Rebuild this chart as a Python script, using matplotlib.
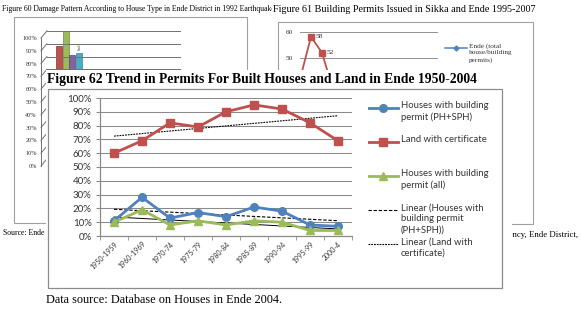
import numpy as np
import matplotlib.pyplot as plt
from matplotlib.patches import Rectangle
from matplotlib.lines import Line2D
from matplotlib.transforms import offset_copy

W, H = 581, 312


def box(x0, y0, x1, y1):
    # pixel box (top-left origin) -> figure rect
    return [x0 / W, 1 - y1 / H, (x1 - x0) / W, (y1 - y0) / H]


# Figure 62 data
periods = ['1950-1959', '1960-1969', '1970-74', '1975-79', '1980-84',
           '1985-89', '1990-94', '1995-99', '2000-4']
ph_sph = [11, 28, 13, 17, 14, 21, 18, 8, 7]
land_cert = [60, 69, 82, 79, 90, 95, 92, 82, 69]
houses_all = [10, 19, 8, 11, 8, 11, 10, 4, 4]

# Figure 60 (background page, mostly covered)
fig60_types = ['Type A', 'Type B', 'Type C', 'Ind']
fig60_damage = [88, 100, 81, 83]
fig60_ticks = list(range(0, 101, 10))

# Figure 61 (background page, mostly covered)
fig61_years = [1995, 1996, 1997, 1998]
fig61_sikka = [42, 58, 52, 38]

BLUE, RED, GREEN = '#4F81BD', '#C0504D', '#9BBB59'
GRID = '#8a8a8a'
SERIF = 'Liberation Serif'
SANS = 'Lato'

fig = plt.figure(figsize=(W / 100, H / 100), dpi=100)

# ---------------- background: figure 60 ----------------
fig.text(2 / W, 1 - 9 / H,
         'Figure 60 Damage Pattern According to House Type in Ende District in 1992 Earthquake',
         family=SERIF, fontsize=5.5, va='center', ha='left', zorder=0.3)
fig.patches.append(Rectangle((14 / W, 1 - 223 / H), (247 - 14) / W, (223 - 17) / H,
                             transform=fig.transFigure, fill=False, ec='#a0a0a0', lw=0.8, zorder=0.4))
ax60 = fig.add_axes(box(41, 38, 180, 166))
ax60.set_xlim(-2.8, 18.6)
ax60.set_ylim(0, 100)
off = 5.5
for v in fig60_ticks:
    ax60.plot([-2.8, -1.9], [v, v + off], color='#707070', lw=0.7, clip_on=False)
    ax60.plot([-1.9, 18.6], [v + off, v + off], color='#707070', lw=0.7, clip_on=False)
ax60.plot([-2.8, -2.8], [0, 100], color='#707070', lw=0.7, clip_on=False)
cols60 = [RED, GREEN, '#8064A2', '#4BACC6']
ax60.bar(range(len(fig60_types)), fig60_damage, bottom=off, width=0.92,
         color=cols60, edgecolor=['#8c3230', '#6d8a34', '#5a447a', '#2f8aa3'], lw=0.5, clip_on=False)
ax60.text(3.1, fig60_damage[3] + off + 2, fig60_types[3], rotation=90, fontsize=3.5,
          family=SERIF, color='#555555', ha='center', va='bottom')
ax60.set_yticks(fig60_ticks)
ax60.set_yticklabels(['%d%%' % t for t in fig60_ticks], family=SERIF, fontsize=4.5, color='#333333')
ax60.tick_params(axis='y', length=0, pad=3)
ax60.set_xticks([])
for s in ax60.spines.values():
    s.set_visible(False)
ax60.patch.set_visible(False)
fig.text(3 / W, 1 - 233 / H, 'Source: Ende', family=SERIF, fontsize=5.6,
         va='center', ha='left', zorder=0.3)

# ---------------- background: figure 61 ----------------
fig.text(273 / W, 1 - 10 / H, 'Figure 61 Building Permits Issued in Sikka and Ende 1995-2007',
         family=SERIF, fontsize=7.3, va='center', ha='left', zorder=0.35,
         bbox=dict(fc='white', ec='none', pad=0.6))
fig.patches.append(Rectangle((278 / W, 1 - 224 / H), (533 - 278) / W, (224 - 22) / H,
                             transform=fig.transFigure, fill=False, ec='#a0a0a0', lw=0.8, zorder=0.4))
ax61 = fig.add_axes(box(300, 31.5, 438, 190.5))
ax61.set_ylim(0, 60)
ax61.set_xlim(1995, 1995 + 138 / 11)
ax61.set_yticks([50, 60])
ax61.set_yticklabels(['50', '60'], family=SERIF, fontsize=5.2, color='#333333')
ax61.tick_params(axis='y', length=0, pad=5)
ax61.set_xticks([])
ax61.grid(axis='y', color='#909090', lw=0.7)
for s in ax61.spines.values():
    s.set_visible(False)
ax61.patch.set_visible(False)
ax61.plot(fig61_years, fig61_sikka, color=RED, lw=1.3, marker='s', ms=4, clip_on=False)
for yr, v in list(zip(fig61_years, fig61_sikka))[1:3]:
    ax61.annotate(str(v), (yr, v), xytext=(3, 0), textcoords='offset points',
                  family=SERIF, fontsize=5.4, color='#333333', va='center')
fig.add_artist(Line2D([445 / W, 467 / W], [1 - 48 / H, 1 - 48 / H], color=BLUE, lw=1.1, zorder=0.5))
fig.add_artist(Line2D([456 / W], [1 - 48 / H], color=BLUE, marker='D', ms=2.5, ls='none', zorder=0.5))
fig.text(469 / W, 1 - 43.5 / H, 'Ende (total\nhouse/building\npermits)', family=SERIF, fontsize=5.2,
         va='top', ha='left', linespacing=1.3, color='#333333', zorder=0.5)
fig.text(578 / W, 1 - 235 / H, 'Agency, Ende District,', family=SERIF,
         fontsize=6.3, va='center', ha='right', zorder=0.3)

# ---------------- foreground: figure 62 ----------------
fig.patches.append(Rectangle((46 / W, 1 - 292 / H), (512 - 46) / W, (292 - 70) / H,
                             transform=fig.transFigure, fc='white', ec='none', zorder=1))
fig.text(47 / W, 1 - 80 / H,
         'Figure 62 Trend in Permits For Built Houses and Land in Ende 1950-2004',
         family=SERIF, weight='bold', fontsize=9.85, va='center', ha='left', zorder=3)
fig.patches.append(Rectangle((48 / W, 1 - 288 / H), (502 - 48) / W, (288 - 89) / H,
                             transform=fig.transFigure, fill=False, ec='#8c8c8c', lw=0.9, zorder=1.5))
fig.text(46 / W, 1 - 300 / H, 'Data source: Database on Houses in Ende 2004.',
         family=SERIF, fontsize=8.8, va='center', ha='left', zorder=3)

ax = fig.add_axes(box(100, 98, 352, 236))
ax.set_zorder(2)
ax.patch.set_visible(False)
x = np.arange(len(periods))

series = [
    dict(y=ph_sph, color=BLUE, marker='o', label='Houses with building\npermit (PH+SPH)'),
    dict(y=land_cert, color=RED, marker='s', label='Land with certificate'),
    dict(y=houses_all, color=GREEN, marker='^', label='Houses with building\npermit (all)'),
]
for s in series:
    ax.plot(x, s['y'], color=s['color'], lw=2.0, marker=s['marker'], ms=5.5,
            clip_on=False, zorder=3)

# linear trendlines
trends = [
    dict(y=ph_sph, ls=(0, (3, 1.6)), lw=0.8, label='Linear (Houses with\nbuilding permit\n(PH+SPH))'),
    dict(y=land_cert, ls=(0, (1.6, 0.9)), lw=0.8, label='Linear (Land with\ncertificate)'),
    dict(y=houses_all, ls='-', lw=0.7, label=None),
]
for t in trends:
    k, b = np.polyfit(x, t['y'], 1)
    ax.plot(x, k * x + b, color='black', ls=t['ls'], lw=t['lw'], zorder=2.5)

ax.set_xlim(-0.5, len(periods) - 0.5)
ax.set_ylim(0, 100)
yt = list(range(0, 101, 10))
ax.set_yticks(yt)
ax.set_yticklabels(['%d%%' % v for v in yt], family=SANS, fontsize=7.0, color='#333333')
ax.set_xticks(x)
ax.set_xticklabels(periods, family=SANS, fontsize=5.0, color='#333333', rotation=45,
                   ha='right', rotation_mode='anchor')
for lbl in ax.get_xticklabels():
    lbl.set_transform(offset_copy(lbl.get_transform(), fig=fig, x=8, y=-10, units='dots'))
ax.set_xticks(np.arange(-0.5, len(periods)), minor=True)
ax.tick_params(axis='x', which='major', length=0, pad=3)
ax.tick_params(axis='x', which='minor', length=3, color=GRID)
ax.tick_params(axis='y', length=3, color=GRID, pad=3)
ax.grid(axis='y', color=GRID, lw=0.75)
ax.set_axisbelow(True)
for side in ['top', 'right']:
    ax.spines[side].set_visible(False)
for side in ['left', 'bottom']:
    ax.spines[side].set_color(GRID)
    ax.spines[side].set_linewidth(0.9)

# legend drawn as its own small axes so each handle sits on the first text line
lax = fig.add_axes(box(368, 89, 500, 259))
lax.set_zorder(2)
lax.set_xlim(0, 132)
lax.set_ylim(4.5, -0.5)
lax.axis('off')
entries = [(s['color'], '-', 2.0, s['marker'], s['label']) for s in series] + \
          [('black', t['ls'], t['lw'], None, t['label']) for t in trends if t['label']]
for row, (c, ls, lw, mk, lab) in enumerate(entries):
    lax.plot([0, 30], [row + 0.05, row + 0.05], color=c, ls=ls, lw=lw)
    if mk:
        lax.plot([15], [row + 0.05], color=c, marker=mk, ms=5.5)
    lax.text(33, row - 0.14, lab, family=SANS, fontsize=6.8, color='#333333',
             va='top', ha='left', linespacing=1.32)

fig.savefig('out.png', dpi=100)
